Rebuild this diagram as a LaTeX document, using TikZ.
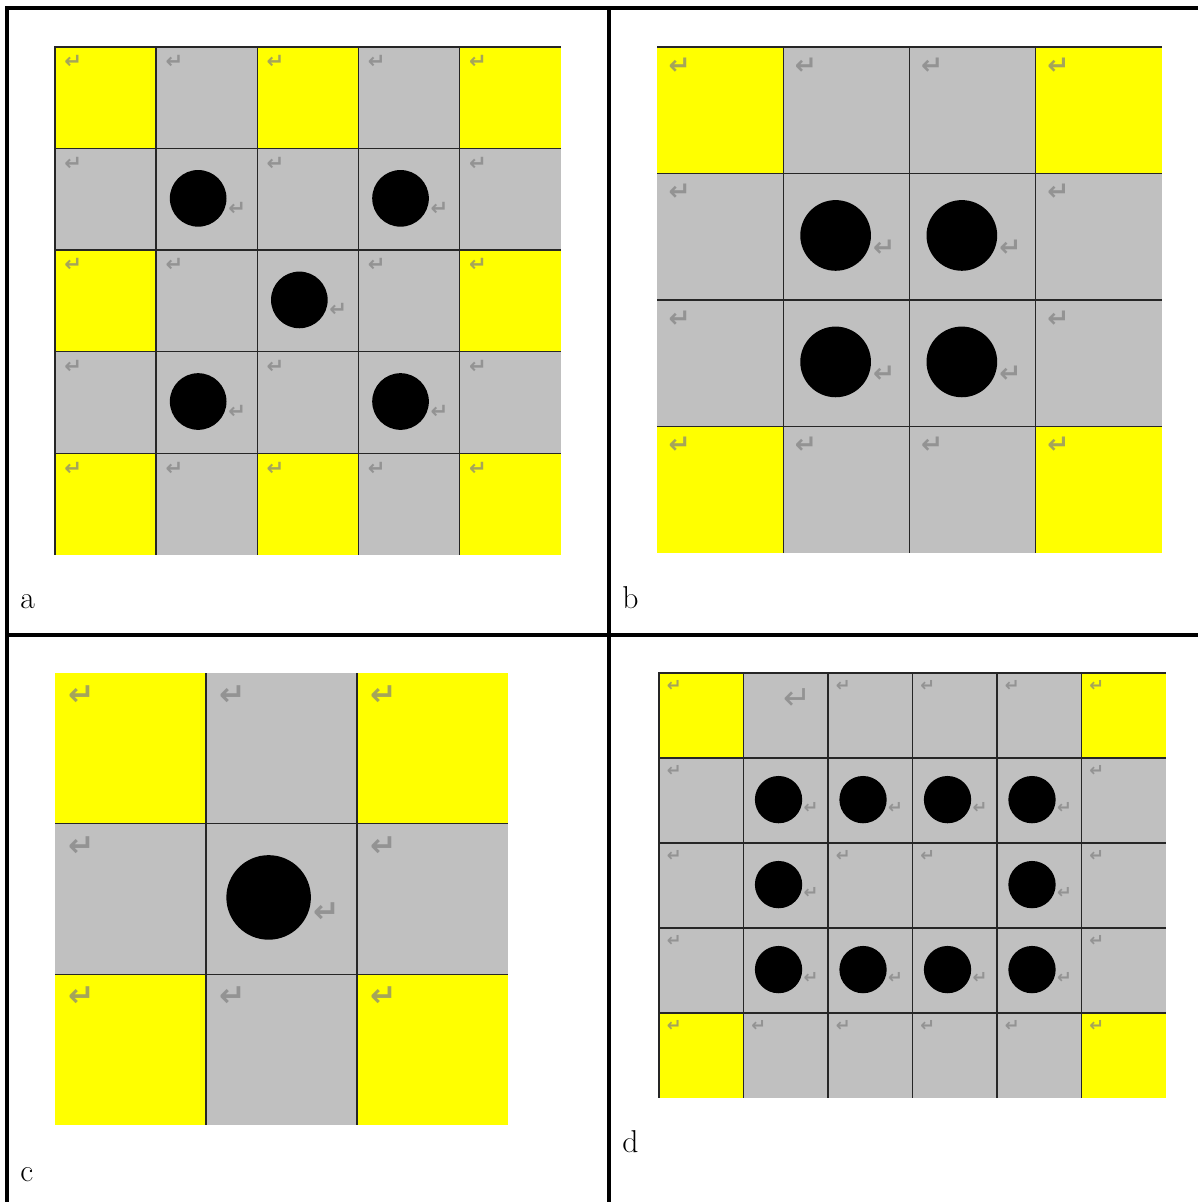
\documentclass[tikz,border=0pt]{standalone}
\usepackage{fontspec}
\newfontfamily\arrowfont{DejaVu Sans}
\definecolor{cellyellow}{RGB}{255,255,0}
\definecolor{cellgray}{RGB}{192,192,192}
\definecolor{markgray}{RGB}{128,128,128}
\tikzset{
  stone/.style={circle, fill=black, inner sep=0pt},
  ret/.style={text=markgray, text opacity=0.7, inner sep=0pt},
  gridrule/.style={line width=0.8pt, black!85},
  tablerule/.style={line width=2pt},
  tag/.style={anchor=base west, inner sep=0pt, font=\fontsize{18}{18}\selectfont}
}
% #1 name, #2 corner, #3 cols, #4 rows, #5 cell width, #6 cell height,
% #7 mark size, #8 yellow cells, #9 stone cells
\newcommand{\board}[9]{%
  \foreach \c/\r in {#9}{\expandafter\gdef\csname stone#1-\c-\r\endcsname{}}%
  \pgfmathtruncatemacro\lastcol{#3-1}%
  \pgfmathtruncatemacro\lastrow{#4-1}%
  \begin{scope}[shift={#2}, x=#5, y=-#6, font=\arrowfont\bfseries\fontsize{#7}{#7}\selectfont]
    \coordinate (#1-nw) at (0,0);
    \coordinate (#1-ne) at (#3,0);
    \coordinate (#1-sw) at (0,#4);
    \fill[cellgray] (#1-nw) rectangle (#3,#4);
    \foreach \c/\r in {#8} \fill[cellyellow] (\c,\r) rectangle ++(1,1);
    \foreach \c in {1,...,\lastcol} \draw[gridrule] (\c,0) -- (\c,#4);
    \foreach \r in {1,...,\lastrow} \draw[gridrule] (0,\r) -- (#3,\r);
    \foreach \c in {0,...,\lastcol} \foreach \r in {0,...,\lastrow} {
      \ifcsname stone#1-\c-\r\endcsname
        \node[stone, minimum size={0.56*#5}] (#1-s-\c-\r) at (\c+0.415,\r+0.49) {};
        \node[ret] (#1-\c-\r) at (\c+0.80,\r+0.59) {↵};
      \else\ifcsname skip#1-\c-\r\endcsname\else
        \node[ret] (#1-\c-\r) at (\c+0.18,\r+0.15) {↵};
      \fi\fi
    }
  \end{scope}}
\expandafter\gdef\csname skipd-1-0\endcsname{}

\begin{document}
\begin{tikzpicture}[x=0.02cm, y=-0.02cm]
  \useasboundingbox (0,0) rectangle (1198,1202);

  % panel a
  \board{a}{(55,47)}{5}{5}{2.024cm}{2.032cm}{12pt}
    {0/0,2/0,4/0,0/2,4/2,0/4,2/4,4/4}{1/1,3/1,2/2,1/3,3/3}
  \draw[gridrule] (a-sw) -- (a-nw) -- (a-ne);
  \node[tag] (lab-a) at (20,608) {a};

  % panel b
  \board{b}{(657,47)}{4}{4}{2.525cm}{2.53cm}{15pt}
    {0/0,3/0,0/3,3/3}{1/1,2/1,1/2,2/2}
  \draw[gridrule] (b-nw) -- (b-ne);
  \node[tag] (lab-b) at (622,608) {b};

  % panel c
  \board{c}{(55,673)}{3}{3}{3.02cm}{3.013cm}{18pt}
    {0/0,2/0,0/2,2/2}{1/1}
  \node[tag] (lab-c) at (20,1181) {c};

  % panel d
  \board{d}{(659,673)}{6}{5}{1.69cm}{1.70cm}{10pt}
    {0/0,5/0,0/4,5/4}{1/1,2/1,3/1,4/1,1/2,4/2,1/3,2/3,3/3,4/3}
  \draw[gridrule] (d-sw) -- (d-nw) -- (d-ne);
  \node[ret, font=\arrowfont\fontsize{19pt}{19pt}\selectfont] (d-1-0) at (797,699) {↵};
  \node[tag] (lab-d) at (622,1152) {d};

  % table rules
  \coordinate (t-w) at (5,8);
  \coordinate (t-e) at (1198,8);
  \coordinate (m-w) at (5,635);
  \coordinate (m-e) at (1198,635);
  \coordinate (l-n) at (7,8);
  \coordinate (l-s) at (7,1202);
  \coordinate (v-n) at (609,8);
  \coordinate (v-s) at (609,1202);
  \draw[tablerule] (t-w) -- (t-e);
  \draw[tablerule] (m-w) -- (m-e);
  \draw[tablerule] (l-n) -- (l-s);
  \draw[tablerule] (v-n) -- (v-s);
\end{tikzpicture}
\end{document}
